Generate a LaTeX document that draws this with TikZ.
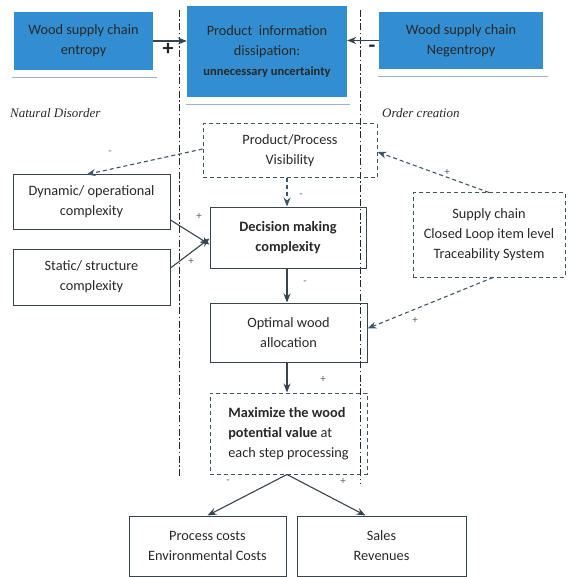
\documentclass[tikz,border=0pt]{standalone}
\usepackage{fontspec}
\setmainfont{Carlito}
\newfontfamily\serifit{Liberation Serif}
\usetikzlibrary{arrows.meta}
\definecolor{boxblue}{RGB}{50,142,208}
\definecolor{edgec}{RGB}{55,68,78}
\definecolor{dashc}{RGB}{60,85,105}
\definecolor{txtc}{RGB}{40,40,40}
\definecolor{shadowc}{RGB}{160,178,200}
\begin{document}
\begin{tikzpicture}[x=1pt,y=-1pt,
  mainfont/.style={font=\fontsize{14.3}{20}\selectfont},
  box/.style={draw=edgec, line width=1pt, align=center, text=txtc, mainfont, inner sep=0pt},
  bluebox/.style={fill=boxblue, draw=none, align=center, text=txtc, mainfont, inner sep=0pt},
  dbox/.style={box, draw=dashc, dash pattern=on 4pt off 3pt},
  arr/.style={-{Stealth[length=9pt,width=7pt]}, draw=edgec, line width=1.1pt},
  darr/.style={arr, draw=dashc, dash pattern=on 4pt off 3pt},
  sign/.style={font=\fontsize{11}{11}\selectfont, text=gray!75!black, inner sep=0pt},
  bigsign/.style={font=\fontsize{22}{22}\selectfont\bfseries, text=black!85, inner sep=0pt},
  divider/.style={draw=black!85, line width=1pt, dash pattern=on 7pt off 2.5pt on 1.5pt off 2.5pt},
  shadowline/.style={draw=shadowc, line width=1.2pt},
  region/.style={font=\serifit\itshape\fontsize{13}{15}\selectfont, text=txtc, inner sep=0pt}
]
\useasboundingbox (0,0) rectangle (573,577);

% blue boxes
\node[bluebox, minimum width=139pt, minimum height=58pt] (ent) at (83.5,41) {Wood supply chain\\entropy};
\node[bluebox, minimum width=160pt, minimum height=91pt] (pid) at (267,51.5) {Product\ \ information\\dissipation:\\{\bfseries\fontsize{12.5}{20}\selectfont unnecessary uncertainty}};
\node[bluebox, minimum width=164pt, minimum height=57pt] (neg) at (461,40.5) {Wood supply chain\\Negentropy};

\draw[shadowline] ([xshift=-2pt,yshift=-7pt]ent.south west) -- ([xshift=4pt,yshift=-7pt]ent.south east);
\draw[shadowline] ([xshift=-1pt,yshift=-7pt]pid.south west) -- ([xshift=3pt,yshift=-7pt]pid.south east);
\draw[shadowline] ([xshift=-1pt,yshift=-7pt]neg.south west) -- ([xshift=5pt,yshift=-7pt]neg.south east);

% dividers
\coordinate (l1) at (179,10); \coordinate (l2) at (179,476);
\coordinate (r1) at (360,10); \coordinate (r2) at (360,484);
\draw[divider] (l1) -- (l2);
\draw[divider] (r1) -- (r2);

% region labels
\node[region, anchor=west] (nd) at (10,113) {Natural Disorder};
\node[region, anchor=west] (oc) at (382,113) {Order creation};

% boxes
\node[dbox, minimum width=174pt, minimum height=54pt] (pv) at (290,151) {Product/Process\\Visibility};
\node[box, minimum width=157pt, minimum height=54pt] (dyn) at (91.5,202) {Dynamic/ operational\\complexity};
\node[box, minimum width=157pt, minimum height=56pt] (sta) at (91.5,277) {Static/ structure\\complexity};
\node[box, minimum width=156pt, minimum height=61pt, font=\bfseries\fontsize{14.3}{20}\selectfont] (dec) at (288,237.5) {Decision making\\complexity};
\node[box, minimum width=157pt, minimum height=59pt] (opt) at (288.5,332.5) {Optimal wood\\allocation};
\node[dbox, minimum width=157pt, minimum height=81pt, align=left] (max) at (288.5,433.5) {\textbf{Maximize the wood}\\\textbf{potential value} at\\each step processing};
\node[dbox, minimum width=152pt, minimum height=84pt] (sc) at (489,235) {Supply chain\\Closed Loop item level\\Traceability System};
\node[box, minimum width=157pt, minimum height=60pt] (pc) at (207.5,546) {Process costs\\Environmental Costs};
\node[box, minimum width=169pt, minimum height=60pt] (sal) at (381.5,546) {Sales\\Revenues};

% connectors
\draw[arr] (ent.east) -- (ent.east -| pid.west);
\node[bigsign] (s1) at (168,49) {+};
\draw[arr] (neg.west) -- (neg.west -| pid.east);
\node[bigsign] (s2) at (372,49) {-};

\draw[darr] ([yshift=2pt]pv.west) -- ([xshift=-5pt]dyn.north);
\node[sign] (s3) at (110,153) {-};
\draw[darr] ([xshift=-3pt]pv.south) -- ([xshift=-1pt]dec.north);
\node[sign] (s4) at (301,196) {-};
\draw[arr] ([yshift=-18pt]dyn.east) -- ([yshift=-7pt]dec.west);
\node[sign] (s5) at (199,216) {+};
\draw[arr] ([yshift=9pt]sta.east) -- ([yshift=-1pt]dec.west);
\node[sign] (s6) at (191,261) {+};
\draw[arr] ([xshift=-1pt]dec.south) -- ([xshift=-1.5pt]opt.north);
\node[sign] (s7) at (305,283) {-};

\draw[darr] (sc.north) -- ([yshift=-1pt]pv.east);
\node[sign] (s8) at (447,172) {+};
\draw[darr] ([xshift=4pt]sc.south) -- ([yshift=4pt]opt.east);
\node[sign] (s9) at (415,320) {+};

\draw[arr] ([xshift=-1.5pt]opt.south) -- ([xshift=-1.5pt]max.north);
\node[sign] (s10) at (323,379) {+};
\draw[arr] ([xshift=-1.5pt]max.south) -- (pc.north);
\node[sign] (s11) at (228,482) {-};
\draw[arr] ([xshift=-1.5pt]max.south) -- ([xshift=-16pt]sal.north);
\node[sign] (s12) at (343,481) {+};
\end{tikzpicture}
\end{document}
